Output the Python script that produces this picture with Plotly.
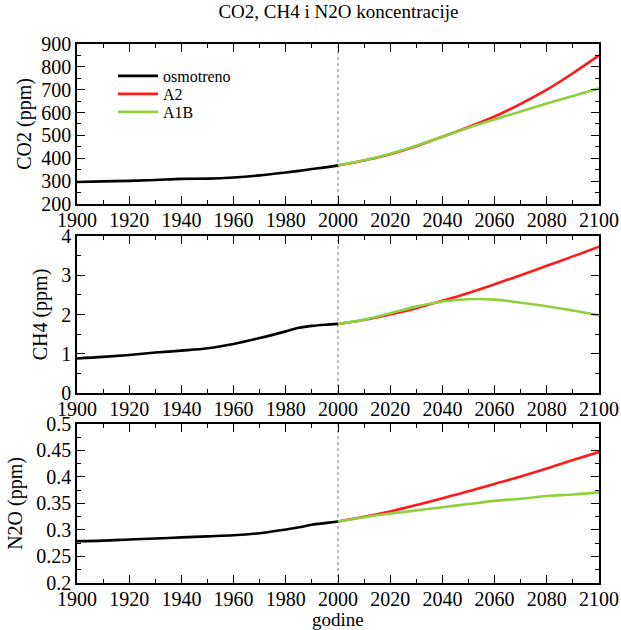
import plotly.graph_objects as go

# ---------------- data ----------------
obs_years = [1900, 1910, 1920, 1930, 1940, 1950, 1960, 1970, 1980, 1985, 1990, 1995, 2000]
co2_obs = [296, 299, 301, 305, 310, 311, 316, 325, 338, 345, 353, 360, 369]
ch4_obs = [0.88, 0.92, 0.97, 1.03, 1.08, 1.14, 1.25, 1.40, 1.57, 1.66, 1.71, 1.74, 1.76]
n2o_obs = [0.279, 0.280, 0.282, 0.284, 0.286, 0.288, 0.290, 0.294, 0.301, 0.305, 0.310, 0.313, 0.316]

scen_years = [2000, 2010, 2020, 2030, 2040, 2050, 2060, 2070, 2080, 2090, 2100]
co2_a2 = [369, 390, 418, 453, 494, 537, 583, 638, 700, 772, 850]
co2_a1b = [369, 391, 420, 455, 495, 534, 570, 605, 640, 673, 706]
ch4_a2 = [1.76, 1.86, 2.00, 2.16, 2.35, 2.55, 2.77, 3.00, 3.24, 3.48, 3.73]
ch4_a1b = [1.76, 1.87, 2.03, 2.20, 2.33, 2.39, 2.38, 2.30, 2.21, 2.10, 1.98]
n2o_a2 = [0.316, 0.325, 0.335, 0.347, 0.360, 0.373, 0.387, 0.401, 0.416, 0.432, 0.447]
n2o_a1b = [0.316, 0.324, 0.331, 0.337, 0.343, 0.349, 0.355, 0.359, 0.364, 0.367, 0.371]

split_year = 2000
series_names = ["osmotreno", "A2", "A1B"]
y_titles = ["CO2 (ppm)", "CH4 (ppm)", "N2O (ppm)"]
y_ranges = [[200, 900], [0, 4], [0.2, 0.5]]
y_dticks = [100, 1, 0.05]
x_range = [1900, 2100]
title_text = "CO2, CH4 i N2O koncentracije"
x_title = "godine"

# ---------------- styling ----------------
FONT = "Liberation Serif"
colors = ["#000000", "#ff1a1a", "#8fd03f"]
LW = 2.6

fig = go.Figure()
panels = [
    (co2_obs, co2_a2, co2_a1b),
    (ch4_obs, ch4_a2, ch4_a1b),
    (n2o_obs, n2o_a2, n2o_a1b),
]
legend_ids = ["legend", "legend2", "legend3"]
for i, (obs, a2, a1b) in enumerate(panels):
    xa = "x" if i == 0 else f"x{i+1}"
    ya = "y" if i == 0 else f"y{i+1}"
    show = i == 0
    for k, (xs, ys) in enumerate([(obs_years, obs), (scen_years, a2), (scen_years, a1b)]):
        fig.add_trace(go.Scatter(x=xs, y=ys, mode="lines", name=series_names[k],
                                 line=dict(color=colors[k], width=LW, shape="spline"),
                                 xaxis=xa, yaxis=ya, showlegend=show,
                                 legend=legend_ids[k]))
    fig.add_shape(type="line", x0=split_year, x1=split_year, y0=0, y1=1,
                  xref=xa, yref=f"{ya} domain",
                  line=dict(color="#777777", width=1, dash="dot"), layer="below")

# panel domains (paper fractions)
domains = [[0.7032, 1.0], [0.3525, 0.6438], [0.0, 0.295]]

axis_common = dict(
    showline=True, linecolor="black", linewidth=1.6, mirror="allticks",
    ticks="inside", ticklen=8, tickwidth=1.3, tickcolor="black",
    showgrid=False, zeroline=False, automargin=False,
    tickfont=dict(family=FONT, size=20, color="black"),
)

legend_common = dict(xanchor="left", yanchor="middle", x=0.069, itemwidth=40,
                     bgcolor="rgba(0,0,0,0)", borderwidth=0,
                     font=dict(family=FONT, size=16, color="black"))
layout = dict(
    width=621, height=630,
    margin=dict(l=77, r=22, t=44, b=47),
    paper_bgcolor="white", plot_bgcolor="white",
    font=dict(family=FONT, color="black"),
    title=dict(text=title_text, x=0.545, xanchor="center", y=0.992, yanchor="top",
               font=dict(family=FONT, size=19, color="black")),
    showlegend=True,
    legend=dict(legend_common, y=0.9406),
    legend2=dict(legend_common, y=0.9072),
    legend3=dict(legend_common, y=0.8738),
    annotations=[dict(text=x_title, xref="x3 domain", yref="paper", x=0.5, y=-0.068,
                      xanchor="center", yanchor="middle", showarrow=False,
                      font=dict(family=FONT, size=19, color="black"))],
)

y_standoffs = [4, 8, 8]
for i in range(3):
    xk = "xaxis" if i == 0 else f"xaxis{i+1}"
    yk = "yaxis" if i == 0 else f"yaxis{i+1}"
    ya = "y" if i == 0 else f"y{i+1}"
    xa = "x" if i == 0 else f"x{i+1}"
    layout[xk] = dict(axis_common, range=x_range, dtick=20, tick0=1900,
                      anchor=ya, domain=[0, 1], ticklabelstandoff=-3,
                      minor=dict(ticks="inside", ticklen=4, dtick=10, tickwidth=1.3, tickcolor="black"))
    layout[yk] = dict(axis_common, range=y_ranges[i], dtick=y_dticks[i], tick0=y_ranges[i][0],
                      anchor=xa, domain=domains[i],
                      minor=dict(ticks="inside", ticklen=4, dtick=y_dticks[i] / 2,
                                 tickwidth=1.3, tickcolor="black"),
                      title=dict(text=y_titles[i], standoff=y_standoffs[i],
                                 font=dict(family=FONT, size=20, color="black")))

fig.update_layout(**layout)
# remove the page's default body margin so the 621x630 figure fills the window
fig.write_html("out.html",
               config={"displayModeBar": False},
               post_script="document.body.style.margin='0';document.body.style.overflow='hidden';")
